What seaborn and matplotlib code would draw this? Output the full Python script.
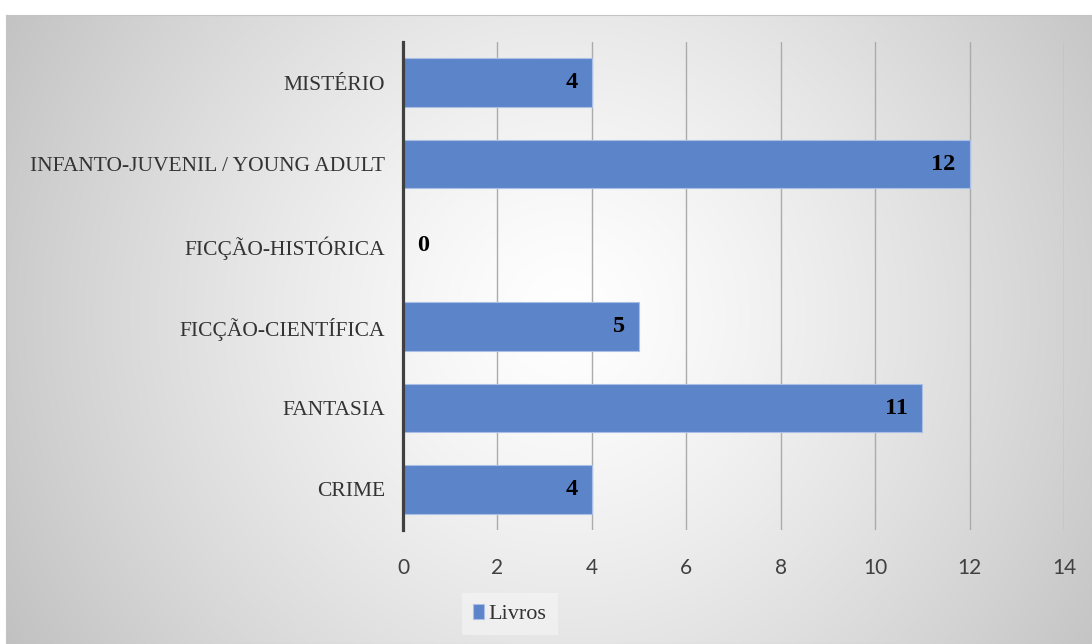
import numpy as np
import pandas as pd
import matplotlib
matplotlib.use("Agg")
import matplotlib.pyplot as plt
import seaborn as sns

categories = ["MISTÉRIO", "INFANTO-JUVENIL / YOUNG ADULT", "FICÇÃO-HISTÓRICA",
              "FICÇÃO-CIENTÍFICA", "FANTASIA", "CRIME"]
livros = [4, 12, 0, 5, 11, 4]
x_ticks = [0, 2, 4, 6, 8, 10, 12, 14]
series_name = "Livros"

df = pd.DataFrame({"genero": categories, "livros": livros})

sns.set_theme(style="white")
W, H = 1092, 644
fig = plt.figure(figsize=(W / 100, H / 100), dpi=100)
fig.patch.set_facecolor("white")

# radial gradient background (chart area)
bg = fig.add_axes([6 / W, 0, 1 - 6 / W, 1 - 15 / H], zorder=0)
ny, nx = 629, 1086
yy, xx = np.mgrid[0:ny, 0:nx]
cx, cy = 560, 300
d = np.sqrt((xx - cx) ** 2 + (yy - cy) ** 2)
d = d / d.max()
v = 255 - 62 * d ** 1.3
img = np.dstack([v, v, v]) / 255.0
bg.imshow(img, aspect="auto", extent=[0, 1, 0, 1], origin="upper")
bg.set_xticks([]); bg.set_yticks([])
for s in bg.spines.values():
    s.set_color("#c4c4c4"); s.set_linewidth(0.8)

ax = fig.add_axes([403 / W, 1 - 530 / H, (1064 - 403) / W, (530 - 42) / H], zorder=1)
ax.patch.set_alpha(0)
sns.barplot(data=df, y="genero", x="livros", orient="h", color="#5b84c9",
            saturation=1, width=0.6, edgecolor="#a9bfe6", linewidth=0.8,
            label=series_name, ax=ax, zorder=3)
if ax.get_legend() is not None:
    ax.get_legend().remove()
ax.set_xlim(0, 14)
ax.set_xticks(x_ticks)
ax.set_xticklabels([str(t) for t in x_ticks], family="Lato", fontsize=15, color="#404040")
ax.set_yticklabels(categories, family="Liberation Serif", fontsize=15.5, color="#333333")
ax.tick_params(axis="x", length=0, pad=20)
ax.tick_params(axis="y", length=0, pad=13)
ax.set_xlabel(""); ax.set_ylabel("")
ax.grid(axis="x", color="#ababab", linewidth=1, zorder=0)
ax.grid(axis="y", visible=False)
for side in ["top", "right", "bottom"]:
    ax.spines[side].set_visible(False)
ax.spines["left"].set_color("#404040")
ax.spines["left"].set_linewidth(2.3)
ax.spines["left"].set_zorder(5)

for i, val in enumerate(livros):
    if val > 0:
        ax.text(val - 0.3, i, str(val), ha="right", va="center",
                family="Liberation Serif", fontweight="bold", fontsize=17.5, color="black", zorder=6)
    else:
        ax.text(val + 0.3, i, str(val), ha="left", va="center",
                family="Liberation Serif", fontweight="bold", fontsize=17.5, color="black", zorder=6)

handles, labels = ax.get_legend_handles_labels()
leg = fig.legend(handles[:1], [series_name], loc="center", bbox_to_anchor=(510 / W, 1 - 614 / H),
                 frameon=True, fancybox=False, handlelength=0.5, handleheight=0.7,
                 handletextpad=0.2, borderpad=0.5, borderaxespad=0,
                 prop={"family": "Liberation Serif", "size": 16})
leg.get_frame().set_facecolor("#f6f6f6")
leg.get_frame().set_edgecolor("none")
leg.get_frame().set_alpha(0.6)
for t in leg.get_texts():
    t.set_color("#333333")

fig.savefig("out.png", dpi=100)
